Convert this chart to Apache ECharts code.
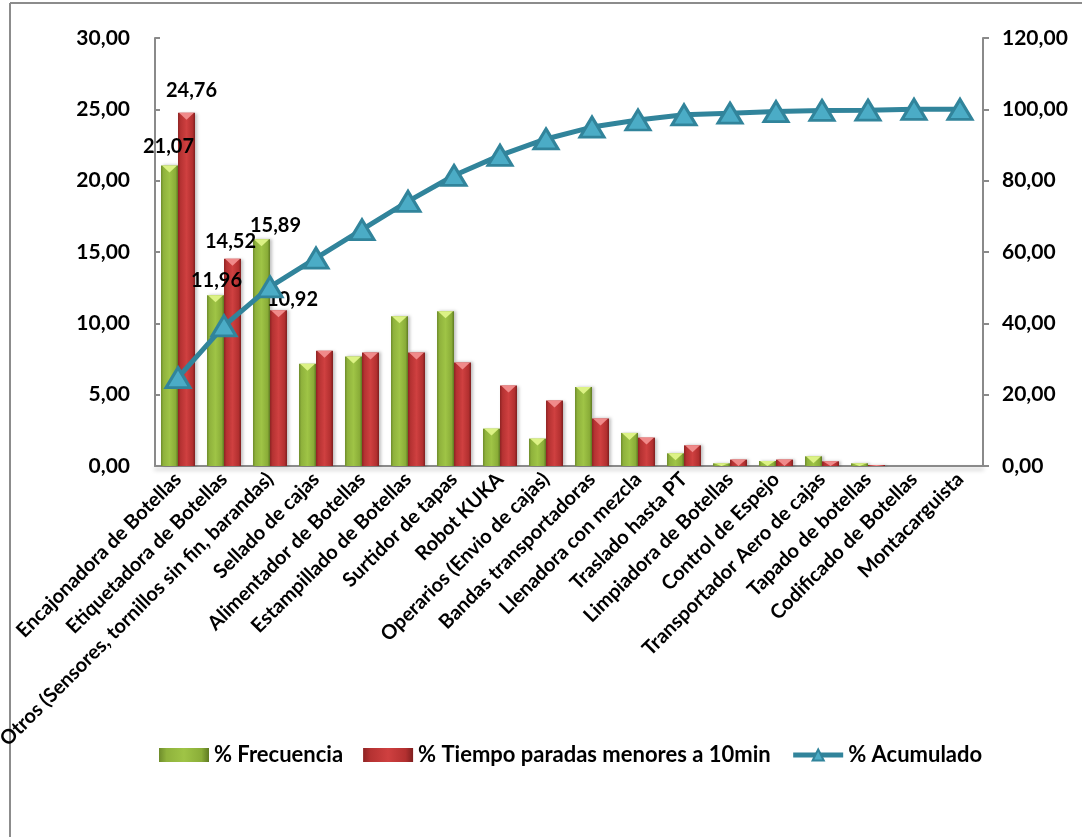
<!DOCTYPE html>
<html>
<head>
<meta charset="utf-8">
<script src="https://cdn.jsdelivr.net/npm/echarts@6/dist/echarts.min.js"></script>
<style>
  html, body { margin: 0; padding: 0; background: #ffffff; }
  #chart { width: 1082px; height: 837px; }
</style>
</head>
<body>
<div id="chart"></div>
<script>
// Causes of minor stoppages (Pareto)
const categories = [
  'Encajonadora de Botellas',
  'Etiquetadora de Botellas',
  'Otros (Sensores, tornillos sin fin, barandas)',
  'Sellado de cajas',
  'Alimentador de Botellas',
  'Estampillado de Botellas',
  'Surtidor de tapas',
  'Robot KUKA',
  'Operarios (Envio de cajas)',
  'Bandas transportadoras',
  'Llenadora con mezcla',
  'Traslado hasta PT',
  'Limpiadora de Botellas',
  'Control de Espejo',
  'Transportador Aero de cajas',
  'Tapado de botellas',
  'Codificado de Botellas',
  'Montacarguista'
];
const frecuencia = [21.07, 11.96, 15.89, 7.17, 7.68, 10.50, 10.85, 2.62, 1.92, 5.53, 2.32, 0.89, 0.19, 0.35, 0.68, 0.19, 0, 0];
const tiempoParadas = [24.76, 14.52, 10.92, 8.08, 7.96, 7.96, 7.26, 5.64, 4.59, 3.33, 1.99, 1.45, 0.45, 0.45, 0.33, 0.07, 0, 0];
const acumulado = [24.76, 39.28, 50.20, 58.28, 66.24, 74.20, 81.46, 87.10, 91.69, 95.02, 97.01, 98.46, 98.91, 99.36, 99.69, 99.76, 100.00, 100.00];
const leftTicks = { min: 0, max: 30, interval: 5 };
const rightTicks = { min: 0, max: 120, interval: 20 };

// number of leading bars that carry a value label, with their nudges
const labelledCount = 3;
const frecuenciaNudge = [[-1, -3], [1, 1], [14, 2]];
const tiempoNudge = [[5, -6], [-2, -1], [14, 5]];

const FONT = 'Lato';
const BAR_W = 17;
const CAP_H = 7;
const fmt = v => v.toFixed(2).replace('.', ',');

const palettes = {
  green: {
    body: ['#6e8c2b', '#8fb23c', '#9fc446', '#8aad38', '#5f7a22'],
    cap: '#dcf285'
  },
  red: {
    body: ['#8e2323', '#b53232', '#cf4040', '#b33030', '#7f1f1f'],
    cap: '#f08a8a'
  }
};
const bodyGradient = stops => new echarts.graphic.LinearGradient(0, 0, 1, 0,
  stops.map((c, i) => ({ offset: [0, 0.15, 0.5, 0.85, 1][i], color: c })));

// Bevelled column: side-shaded body plus a lighter notch at the top.
// side = -1 draws left of the category centre, 0 draws right of it.
function bevelBars(name, values, nudges, palette, side) {
  const fill = bodyGradient(palette.body);
  return {
    name: name,
    type: 'custom',
    yAxisIndex: 0,
    itemStyle: { color: fill },
    data: values.map((v, i) => [i, v]),
    renderItem: function (params, api) {
      const i = api.value(0);
      const v = api.value(1);
      const top = api.coord([i, v]);
      const base = api.coord([i, 0]);
      const x0 = top[0] + side * BAR_W;
      const h = base[1] - top[1];
      const children = [];
      if (h > 0.3) {
        children.push({
          type: 'rect',
          shape: { x: x0, y: top[1], width: BAR_W, height: h },
          style: { fill: fill, shadowColor: 'rgba(0,0,0,0.25)', shadowBlur: 3, shadowOffsetX: 2 }
        });
        const ch = Math.min(CAP_H, h);
        children.push({
          type: 'polygon',
          shape: { points: [[x0 + 1, top[1]], [x0 + BAR_W - 1, top[1]], [x0 + BAR_W / 2, top[1] + ch]] },
          style: { fill: palette.cap }
        });
      }
      if (i < labelledCount) {
        children.push({
          type: 'text',
          z2: 100,
          x: x0 + BAR_W / 2 + nudges[i][0],
          y: top[1] - 6 + nudges[i][1],
          style: {
            text: fmt(v),
            align: 'center',
            verticalAlign: 'bottom',
            fontFamily: FONT,
            fontWeight: 'bold',
            fontSize: 20,
            fill: '#000'
          }
        });
      }
      return { type: 'group', children: children };
    },
    z: 2
  };
}

const chart = echarts.init(document.getElementById('chart'), null, { renderer: 'canvas' });

chart.setOption({
  animation: false,
  textStyle: { fontFamily: FONT },
  graphic: [
    { type: 'line', shape: { x1: 10, y1: 3, x2: 1082, y2: 3 }, style: { stroke: '#8c8c8c', lineWidth: 2 } },
    { type: 'line', shape: { x1: 10, y1: 3, x2: 10, y2: 837 }, style: { stroke: '#8c8c8c', lineWidth: 2 } }
  ],
  grid: { left: 155, right: 99, top: 38, bottom: 371, containLabel: false, outerBoundsMode: 'none' },
  legend: {
    bottom: 66,
    left: 154,
    itemWidth: 50,
    itemHeight: 14,
    itemGap: 20,
    textStyle: { fontFamily: FONT, fontWeight: 'bold', fontSize: 22, color: '#000' },
    data: [
      { name: '% Frecuencia', icon: 'rect' },
      { name: '% Tiempo paradas menores a 10min', icon: 'rect' },
      { name: '% Acumulado', lineStyle: { width: 5 } }
    ]
  },
  xAxis: {
    type: 'category',
    data: categories,
    axisLine: { lineStyle: { color: '#8a8a8a', width: 2, shadowColor: 'rgba(0,0,0,0.25)', shadowBlur: 4, shadowOffsetY: 3 } },
    axisTick: { show: false },
    axisLabel: {
      interval: 0,
      rotate: 45,
      margin: 10,
      fontFamily: FONT,
      fontWeight: 'bold',
      fontSize: 20,
      color: '#000'
    }
  },
  yAxis: [
    {
      type: 'value',
      min: leftTicks.min, max: leftTicks.max, interval: leftTicks.interval,
      position: 'left',
      splitLine: { show: false },
      axisLine: { show: true, lineStyle: { color: '#8a8a8a', width: 2 } },
      axisTick: { show: true, inside: true, length: 5, lineStyle: { color: '#8a8a8a', width: 2 } },
      axisLabel: { margin: 25, fontFamily: FONT, fontWeight: 'bold', fontSize: 21, color: '#000', formatter: fmt }
    },
    {
      type: 'value',
      min: rightTicks.min, max: rightTicks.max, interval: rightTicks.interval,
      position: 'right',
      splitLine: { show: false },
      axisLine: { show: true, lineStyle: { color: '#8a8a8a', width: 2 } },
      axisTick: { show: true, length: 6, lineStyle: { color: '#8a8a8a', width: 2 } },
      axisLabel: { margin: 19, fontFamily: FONT, fontWeight: 'bold', fontSize: 21, color: '#000', formatter: fmt }
    }
  ],
  series: [
    bevelBars('% Frecuencia', frecuencia, frecuenciaNudge, palettes.green, -1),
    bevelBars('% Tiempo paradas menores a 10min', tiempoParadas, tiempoNudge, palettes.red, 0),
    {
      name: '% Acumulado',
      type: 'line',
      yAxisIndex: 1,
      data: acumulado,
      symbol: 'triangle',
      symbolSize: [24, 20],
      lineStyle: { color: '#31849b', width: 5 },
      itemStyle: { color: '#4bacc6', borderColor: '#31849b', borderWidth: 3 },
      z: 5
    }
  ]
});
</script>
</body>
</html>
